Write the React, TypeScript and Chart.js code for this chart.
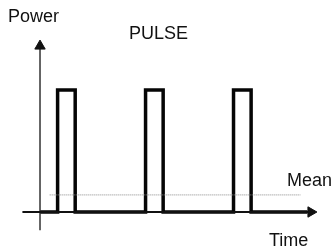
import React, { useEffect, useRef } from "react";
import { Chart, registerables } from "chart.js";

Chart.register(...registerables);

// Pulse signal (time units, power units)
const signalTime = [0, 1, 1, 2, 2, 6, 6, 7, 7, 11, 11, 12, 12, 15.2];
const signalPower = [0, 0, 1, 1, 0, 0, 1, 1, 0, 0, 1, 1, 0, 0];

// Mean power level
const meanTime = [0.55, 14.8];
const meanPower = [0.14, 0.14];

// Axes
const xAxisTime = [-1.0, 15.4];
const xAxisPower = [0, 0];
const yAxisTime = [0, 0];
const yAxisPower = [-0.15, 1.36];

const title = "PULSE";
const yLabel = "Power";
const xLabel = "Time";
const meanLabel = "Mean";

const pts = (xs: number[], ys: number[]) => xs.map((x, i) => ({ x, y: ys[i] }));

export default function App() {
  const ref = useRef<HTMLCanvasElement | null>(null);

  useEffect(() => {
    document.body.style.margin = "0";
    const canvas = ref.current;
    if (!canvas) return;

    const labelPlugin = {
      id: "labels",
      afterDraw(chart: any) {
        const ctx = chart.ctx;
        ctx.save();
        ctx.fillStyle = "#111";
        ctx.font = '18px "Liberation Sans", Arial, sans-serif';
        ctx.textBaseline = "middle";
        ctx.textAlign = "left";
        ctx.fillText(yLabel, 8, 17);
        ctx.fillText(title, 129, 34);
        ctx.fillText(meanLabel, 287, 181);
        ctx.fillText(xLabel, 269, 241);
        ctx.restore();
      },
    };

    const chart = new Chart(canvas, {
      type: "line",
      data: {
        datasets: [
          {
            data: pts(meanTime, meanPower),
            borderColor: "#8a8a8a",
            borderWidth: 1,
            borderDash: [1, 1],
            pointRadius: 0,
          },
          {
            data: pts(xAxisTime, xAxisPower),
            borderColor: "#111",
            borderWidth: 2,
            pointRadius: [0, 6],
            pointStyle: "triangle",
            rotation: 90,
            pointBackgroundColor: "#111",
            pointBorderColor: "#111",
            pointBorderWidth: 1,
          },
          {
            data: pts(yAxisTime, yAxisPower),
            borderColor: "#333",
            borderWidth: 1.5,
            pointRadius: [0, 6],
            pointStyle: "triangle",
            rotation: 0,
            pointBackgroundColor: "#111",
            pointBorderColor: "#111",
            pointBorderWidth: 1,
          },
          {
            data: pts(signalTime, signalPower),
            borderColor: "#050505",
            borderWidth: 3.5,
            pointRadius: 0,
            borderJoinStyle: "miter",
          },
        ],
      },
      options: {
        responsive: false,
        animation: false,
        events: [],
        layout: { padding: { left: 18.9, right: 9, top: 29, bottom: 15.6 } },
        plugins: { legend: { display: false }, tooltip: { enabled: false }, title: { display: false } },
        scales: {
          x: { type: "linear", min: -1.2, max: 16.2, display: false },
          y: { type: "linear", min: -0.2, max: 1.5, display: false },
        },
      } as any,
      plugins: [labelPlugin],
    });

    return () => chart.destroy();
  }, []);

  return (
    <div style={{ width: 334, height: 252, background: "#fff" }}>
      <canvas ref={ref} width={334} height={252} />
    </div>
  );
}
